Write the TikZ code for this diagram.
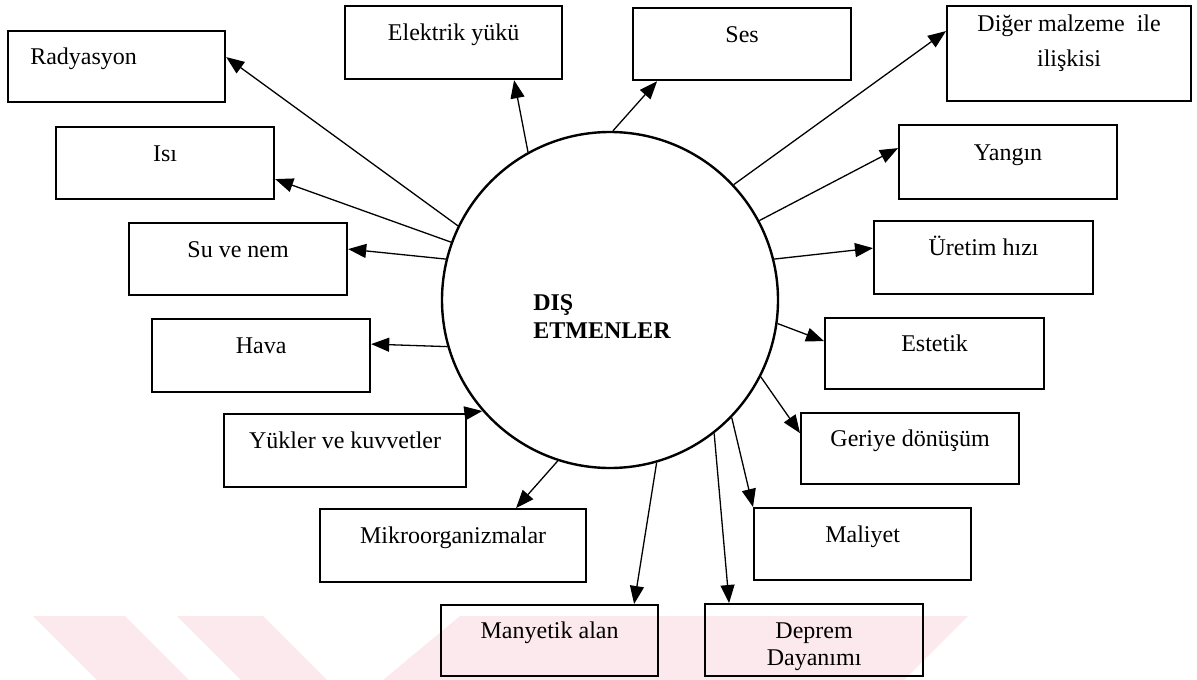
\documentclass[tikz,border=0pt]{standalone}
\usepackage{fontspec}
\setmainfont{Liberation Serif}
\usetikzlibrary{arrows.meta}
\definecolor{wm}{RGB}{252,233,237}
\begin{document}
\begin{tikzpicture}[x=1pt,y=-1pt,
  box/.style={draw, line width=2.2pt, inner sep=0pt, anchor=north west,
    text height=17pt, text depth=21pt, font=\fontsize{24}{27}\selectfont},
  arr/.style={line width=1.3pt, -{Triangle[length=18pt,width=14pt]}},
  hub/.style={draw, circle, line width=2.4pt, minimum size=336pt, inner sep=0pt},
  hubtext/.style={font=\fontsize{24}{28}\selectfont\bfseries, align=left, inner sep=0pt}]
\useasboundingbox (0,0) rectangle (1197,680);
% watermark
\fill[wm] (33,616) -- (125,616) -- (189,680) -- (97,680) -- cycle;
\fill[wm] (177,616) -- (263,616) -- (327,680) -- (241,680) -- cycle;
\fill[wm] (383,680) -- (460,616) -- (968,616) -- (904,680) -- cycle;
% hub
\node[hub] (c) at (610,300) {};
\node[hubtext] (lbl) at (602,317) {DIŞ\\ETMENLER};
% boxes
\node[box, minimum width=217pt, minimum height=71pt] (rad) at (7,30) {Radyasyon\hspace*{66pt}};
\node[box, minimum width=218pt, minimum height=72pt] (isi) at (55,126) {Isı};
\node[box, minimum width=217pt, minimum height=73pt] (elk) at (344,5) {Elektrik yükü};
\node[box, minimum width=218pt, minimum height=72pt] (ses) at (632,7) {Ses};
\node[box, minimum width=244pt, minimum height=95pt, text depth=62pt,
  font=\fontsize{24}{35}\selectfont] (dig) at (946,5)
  {\begin{tabular}[t]{@{}c@{}}Diğer malzeme~ ile\\ilişkisi\end{tabular}};
\node[box, minimum width=218pt, minimum height=74pt] (yan) at (898,124) {Yangın};
\node[box, minimum width=218pt, minimum height=72pt] (su) at (128,222) {Su ve nem};
\node[box, minimum width=218pt, minimum height=73pt] (hava) at (151,318) {Hava};
\node[box, minimum width=219pt, minimum height=73pt] (ure) at (873,220) {Üretim hızı};
\node[box, minimum width=219pt, minimum height=71pt] (est) at (824,317) {Estetik};
\node[box, minimum width=242pt, minimum height=73pt] (yuk) at (223,413) {Yükler ve kuvvetler};
\node[box, minimum width=218pt, minimum height=71pt] (ger) at (800,412) {Geriye dönüşüm};
\node[box, minimum width=266pt, minimum height=73pt] (mik) at (319,508) {Mikroorganizmalar};
\node[box, minimum width=217pt, minimum height=72pt] (mal) at (753,507) {Maliyet};
\node[box, minimum width=217pt, minimum height=71pt] (man) at (440,604) {Manyetik alan};
\node[box, minimum width=218pt, minimum height=72pt] (dep) at (704,603)
  {\begin{tabular}[t]{@{}c@{}}Deprem\\Dayanımı\end{tabular}};
% connectors
\draw[arr] (c.154.5) -- ([yshift=9.5pt]rad.east);
\draw[arr] (c.160.6) -- ([yshift=-16pt]isi.east);
\draw[arr] (c.166) -- ([yshift=10pt]su.east);
\draw[arr] (c.196.7) -- ([yshift=11.5pt]hava.east);
\draw[arr] (yuk.north east) -- (c.221.5);
\draw[arr] (c.252.8) -- ([xshift=63pt]mik.north);
\draw[arr] (c.286.5) -- ([xshift=84.5pt]man.north);
\draw[arr] (c.308.5) -- ([xshift=-85pt]dep.north);
\draw[arr] (c.316.2) -- (mal.north west);
\draw[arr] (c.333.1) -- ([yshift=15.5pt]ger.west);
\draw[arr] (c.352.2) -- ([yshift=12.5pt]est.west);
\draw[arr] (c.14) -- ([yshift=9.5pt]ure.west);
\draw[arr] (c.28.7) -- ([yshift=14pt]yan.west);
\draw[arr] (c.43.6) -- ([yshift=22.5pt]dig.west);
\draw[arr] (c.89.3) -- ([xshift=-85pt]ses.south);
\draw[arr] (c.119.9) -- ([xshift=60.5pt]elk.south);
\end{tikzpicture}
\end{document}
